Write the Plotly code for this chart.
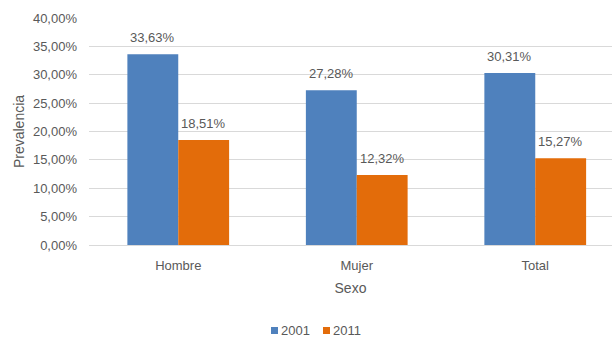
import plotly.graph_objects as go

# Prevalence by sex, 2001 vs 2011
categories = ["Hombre", "Mujer", "Total"]
years = ["2001", "2011"]
values_2001 = [33.63, 27.28, 30.31]
values_2011 = [18.51, 12.32, 15.27]
y_ticks = [0, 5, 10, 15, 20, 25, 30, 35, 40]

colors = {"2001": "#4f81bd", "2011": "#e36c0a"}
text_color = "#595959"
font_family = "Liberation Sans, Arial, sans-serif"

W, H = 612, 337
M_L, M_R, M_T, M_B = 89, 0, 18, 92
plot_w = W - M_L - M_R
plot_h = H - M_T - M_B


def pct(v):
    return f"{v:.2f}".replace(".", ",") + "%"


def px_to_paper(px, py):
    return (px - M_L) / plot_w, (H - M_B - py) / plot_h


fig = go.Figure()
series = {"2001": values_2001, "2011": values_2011}
for yr in years:
    fig.add_trace(go.Bar(
        name=yr,
        x=categories,
        y=series[yr],
        marker=dict(color=colors[yr], line=dict(width=0)),
        hoverinfo="skip",
        showlegend=False,
    ))

# value labels above each bar
bar_px = 51
for i, yr in enumerate(years):
    shift = (-0.5 if i == 0 else 0.5) * bar_px
    for cat, v in zip(categories, series[yr]):
        fig.add_annotation(
            x=cat, y=v, text=pct(v), showarrow=False,
            xshift=shift, yshift=7, yanchor="bottom",
            font=dict(family=font_family, size=13, color=text_color),
        )

# compact legend below the axis title: small square key + year label
legend_left = {"2001": 271, "2011": 323}
key_size = 7
legend_cy = 330.5
for yr in years:
    x0, y0 = px_to_paper(legend_left[yr], legend_cy - key_size / 2)
    x1, y1 = px_to_paper(legend_left[yr] + key_size, legend_cy + key_size / 2)
    fig.add_shape(type="rect", xref="paper", yref="paper",
                  x0=x0, x1=x1, y0=y1, y1=y0,
                  fillcolor=colors[yr], line=dict(width=0))
    tx, ty = px_to_paper(legend_left[yr] + key_size + 1, legend_cy)
    fig.add_annotation(x=tx, y=ty, xref="paper", yref="paper",
                       text=yr, showarrow=False, xanchor="left", yanchor="middle",
                       font=dict(family=font_family, size=13, color=text_color))

fig.update_layout(
    width=W, height=H,
    margin=dict(l=M_L, r=M_R, t=M_T, b=M_B),
    paper_bgcolor="white", plot_bgcolor="white",
    barmode="group", bargap=0.43, bargroupgap=0,
    font=dict(family=font_family, size=13, color=text_color),
    showlegend=False,
)

fig.update_xaxes(
    range=[-0.5, 2.43],
    showgrid=False, showline=False, zeroline=False,
    ticks="", ticklabelstandoff=11,
    tickfont=dict(size=13, color=text_color),
    title=dict(text="Sexo", standoff=11, font=dict(size=14, color=text_color)),
)
fig.update_yaxes(
    range=[0, 40],
    tickvals=y_ticks,
    ticktext=[pct(t) for t in y_ticks],
    showgrid=True, gridcolor="#d9d9d9", gridwidth=1,
    zeroline=True, zerolinecolor="#d9d9d9", zerolinewidth=1,
    showline=False, ticks="", ticklabelstandoff=11,
    tickfont=dict(size=13, color=text_color),
    title=dict(text="Prevalencia", standoff=5, font=dict(size=14, color=text_color)),
)

fig.write_html("out.html")
